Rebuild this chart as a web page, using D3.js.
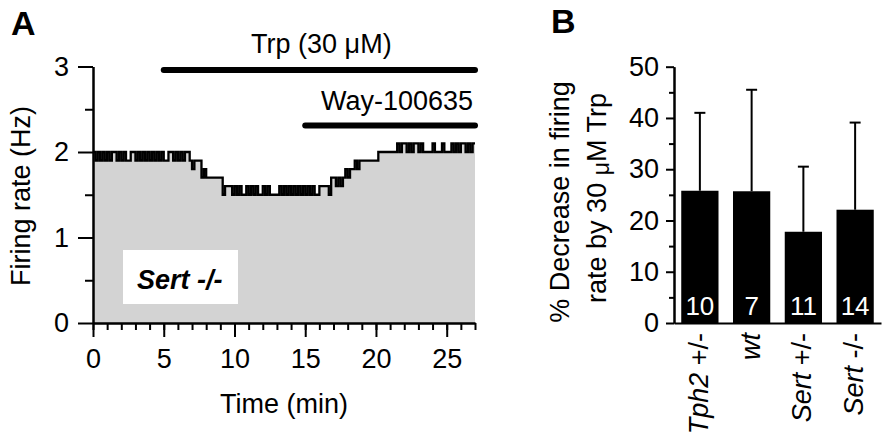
<!DOCTYPE html>
<html>
<head>
<meta charset="utf-8">
<script src="https://cdn.jsdelivr.net/npm/d3@7"></script>
<style>
  body { margin: 0; background: #fff; }
  svg text { font-family: "Liberation Sans", Arial, sans-serif; fill: #000; }
  .axis path, .axis line { stroke: #000; stroke-width: 2px; }
  .axis text { font-size: 27px; font-family: "Liberation Sans", Arial, sans-serif; }
  .label { font-size: 27px; }
</style>
</head>
<body>
<div id="chart"></div>
<script>
// ── Panel A: single-unit firing rate, 10-s bins (Hz), one row per minute ──
const binMinutes = 1 / 6;
const firingRate = [
  2.0,1.9,2.0,1.9,2.0,1.9,
  2.0,1.9,2.0,2.0,1.9,2.0,
  1.9,2.0,1.9,1.9,2.0,2.0,
  1.9,2.0,1.9,2.0,1.9,2.0,
  1.9,2.0,1.9,2.0,1.9,2.0,
  1.9,1.9,2.0,2.0,1.9,2.0,
  1.9,2.0,1.9,2.0,2.0,1.9,
  1.8,1.9,1.9,1.9,1.7,1.8,
  1.7,1.7,1.7,1.7,1.7,1.7,
  1.7,1.5,1.6,1.6,1.6,1.5,
  1.6,1.5,1.6,1.5,1.5,1.6,
  1.5,1.6,1.5,1.6,1.5,1.5,
  1.6,1.5,1.6,1.5,1.5,1.5,
  1.5,1.6,1.5,1.6,1.5,1.6,
  1.5,1.6,1.5,1.6,1.5,1.6,
  1.5,1.6,1.5,1.6,1.5,1.5,
  1.6,1.6,1.6,1.6,1.5,1.7,
  1.7,1.6,1.7,1.6,1.7,1.8,
  1.7,1.8,1.8,1.9,1.8,1.9,
  1.9,1.9,1.9,1.9,1.9,1.9,
  1.9,2.0,2.0,2.0,2.0,2.0,
  2.0,2.0,2.0,2.1,2.0,2.1,
  2.1,2.0,2.1,2.0,2.1,2.1,
  2.0,2.1,2.0,2.0,2.0,2.0,
  2.1,2.0,2.0,2.0,2.1,2.0,
  2.0,2.0,2.1,2.0,2.1,2.0,
  2.1,2.1,2.0,2.1,2.0,2.1
];
const xTicksA = [0, 5, 10, 15, 20, 25];
const yTicksA = [0, 1, 2, 3];
const drugNames = ["Trp (30 \u03bcM)", "Way-100635"];
const drugStart = [5, 15];
const drugEnd   = [27, 27];
const drugHz    = [2.96, 2.31];   // height of application bar in Hz units

// ── Panel B: % decrease in firing rate by 30 µM Trp ──
const groupItalic = ["Tph2", "wt", "Sert", "Sert"];
const groupSuffix = [" +/-", "", " +/-", " -/-"];
const decrease    = [25.8, 25.7, 17.8, 22.1];
const errorUp     = [15.2, 19.8, 12.7, 17.0];
const nCells      = [10, 7, 11, 14];
const yTicksB     = [0, 10, 20, 30, 40, 50];

const svg = d3.select("#chart").append("svg")
  .attr("width", 892).attr("height", 446);

// ───────────────────────── Panel A ─────────────────────────
const xA = d3.scaleLinear().domain([0, 27]).range([93, 475]);
const yA = d3.scaleLinear().domain([0, 3]).range([323, 66.5]);

const trace = firingRate.map((v, i) => ({ t: i * binMinutes, v }));
trace.push({ t: 27, v: firingRate[firingRate.length - 1] });

svg.append("path")
  .datum(trace)
  .attr("fill", "#d3d3d3")
  .attr("d", d3.area()
    .x(d => xA(d.t)).y0(yA(0)).y1(d => yA(d.v))
    .curve(d3.curveStepAfter));

// genotype box
svg.append("rect")
  .attr("x", 123).attr("y", 250).attr("width", 115).attr("height", 54)
  .attr("fill", "#fff");
svg.append("text")
  .attr("x", 137).attr("y", 289)
  .style("font-size", "27px").style("font-weight", "bold").style("font-style", "italic")
  .text("Sert -/-");

svg.append("path")
  .datum(trace)
  .attr("fill", "none")
  .attr("stroke", "#000")
  .attr("stroke-width", 2.3)
  .attr("d", d3.line().x(d => xA(d.t)).y(d => yA(d.v)).curve(d3.curveStepAfter));

// drug application bars
drugNames.forEach((name, i) => {
  svg.append("line")
    .attr("x1", xA(drugStart[i])).attr("x2", xA(drugEnd[i]))
    .attr("y1", yA(drugHz[i])).attr("y2", yA(drugHz[i]))
    .attr("stroke", "#000").attr("stroke-width", 6).attr("stroke-linecap", "round");
});
svg.append("text").attr("class", "label")
  .attr("x", (xA(drugStart[0]) + xA(drugEnd[0])) / 2 + 2).attr("y", yA(drugHz[0]) - 17)
  .attr("text-anchor", "middle").text(drugNames[0]);
svg.append("text").attr("class", "label")
  .attr("x", xA(drugEnd[1]) - 2).attr("y", yA(drugHz[1]) - 15)
  .attr("text-anchor", "end").text(drugNames[1]);

// axes
function cleanAxis(g) {
  g.attr("font-size", null).attr("font-family", null).attr("class", "axis");
}
svg.append("g").attr("transform", "translate(0,323)")
  .call(d3.axisBottom(xA).tickValues(d3.range(0, 28)).tickSize(7).tickSizeOuter(0).tickFormat(""))
  .call(cleanAxis);
svg.append("g").attr("transform", "translate(0,323)")
  .call(d3.axisBottom(xA).tickValues(xTicksA).tickSize(14).tickSizeOuter(0).tickPadding(12))
  .call(cleanAxis);
svg.append("g").attr("transform", "translate(93,0)")
  .call(d3.axisLeft(yA).tickValues([0.5, 1.5, 2.5]).tickSize(8).tickSizeOuter(0).tickFormat(""))
  .call(cleanAxis);
svg.append("g").attr("transform", "translate(93,0)")
  .call(d3.axisLeft(yA).tickValues(yTicksA).tickSize(15).tickSizeOuter(0).tickPadding(9)
    .tickFormat(d3.format("d")))
  .call(cleanAxis);

svg.append("text").attr("class", "label")
  .attr("x", 284).attr("y", 413).attr("text-anchor", "middle").text("Time (min)");
svg.append("text").attr("class", "label")
  .attr("transform", "translate(30,196) rotate(-90)")
  .attr("text-anchor", "middle").text("Firing rate (Hz)");

svg.append("text").attr("x", 11).attr("y", 35)
  .style("font-size", "34px").style("font-weight", "bold").text("A");

// ───────────────────────── Panel B ─────────────────────────
const xB = d3.scaleBand().domain(d3.range(nCells.length)).range([674, 881])
  .paddingInner(0.28).paddingOuter(0.14);
const yB = d3.scaleLinear().domain([0, 50]).range([323, 66.7]);

// error bars (upper only)
decrease.forEach((m, i) => {
  const cx = xB(i) + xB.bandwidth() / 2;
  svg.append("line")
    .attr("x1", cx).attr("x2", cx).attr("y1", yB(m)).attr("y2", yB(m + errorUp[i]))
    .attr("stroke", "#000").attr("stroke-width", 2);
  svg.append("line")
    .attr("x1", cx - 5.5).attr("x2", cx + 5.5)
    .attr("y1", yB(m + errorUp[i])).attr("y2", yB(m + errorUp[i]))
    .attr("stroke", "#000").attr("stroke-width", 2);
});

svg.selectAll(".bar").data(decrease).join("rect")
  .attr("class", "bar")
  .attr("x", (d, i) => xB(i)).attr("width", xB.bandwidth())
  .attr("y", d => yB(d)).attr("height", d => yB(0) - yB(d))
  .attr("fill", "#000");

svg.selectAll(".ncount").data(nCells).join("text")
  .attr("class", "ncount")
  .attr("x", (d, i) => xB(i) + xB.bandwidth() / 2).attr("y", 315)
  .attr("text-anchor", "middle")
  .style("font-size", "26px").style("fill", "#fff")
  .text(d => d);

svg.append("g").attr("transform", "translate(674,0)")
  .call(d3.axisLeft(yB).tickValues([5, 15, 25, 35, 45]).tickSize(5).tickSizeOuter(0).tickFormat(""))
  .call(cleanAxis);
svg.append("g").attr("transform", "translate(674,0)")
  .call(d3.axisLeft(yB).tickValues(yTicksB).tickSize(8).tickSizeOuter(0).tickPadding(7))
  .call(cleanAxis);
svg.append("g").attr("transform", "translate(0,323)")
  .call(d3.axisBottom(xB).tickSize(0).tickSizeOuter(0).tickFormat(""))
  .call(cleanAxis);

// rotated category labels
groupItalic.forEach((name, i) => {
  const cx = xB(i) + xB.bandwidth() / 2;
  const t = svg.append("text").attr("class", "label")
    .attr("transform", `translate(${cx + 8},333) rotate(-90)`)
    .attr("text-anchor", "end");
  t.append("tspan").style("font-style", "italic").text(name);
  if (groupSuffix[i]) t.append("tspan").text(groupSuffix[i]);
});

// y title, two lines
svg.append("text").attr("class", "label")
  .attr("transform", "translate(569,202) rotate(-90)")
  .attr("text-anchor", "middle").text("% Decrease in firing");
const yt2 = svg.append("text").attr("class", "label")
  .attr("transform", "translate(606,198) rotate(-90)")
  .attr("text-anchor", "middle");
yt2.append("tspan").text("rate by 30 ");
yt2.append("tspan").attr("dy", 3).style("font-size", "23px").text("\u03bc");
yt2.append("tspan").attr("dy", -3).text("M Trp");

svg.append("text").attr("x", 551).attr("y", 33)
  .style("font-size", "34px").style("font-weight", "bold").text("B");
</script>
</body>
</html>
